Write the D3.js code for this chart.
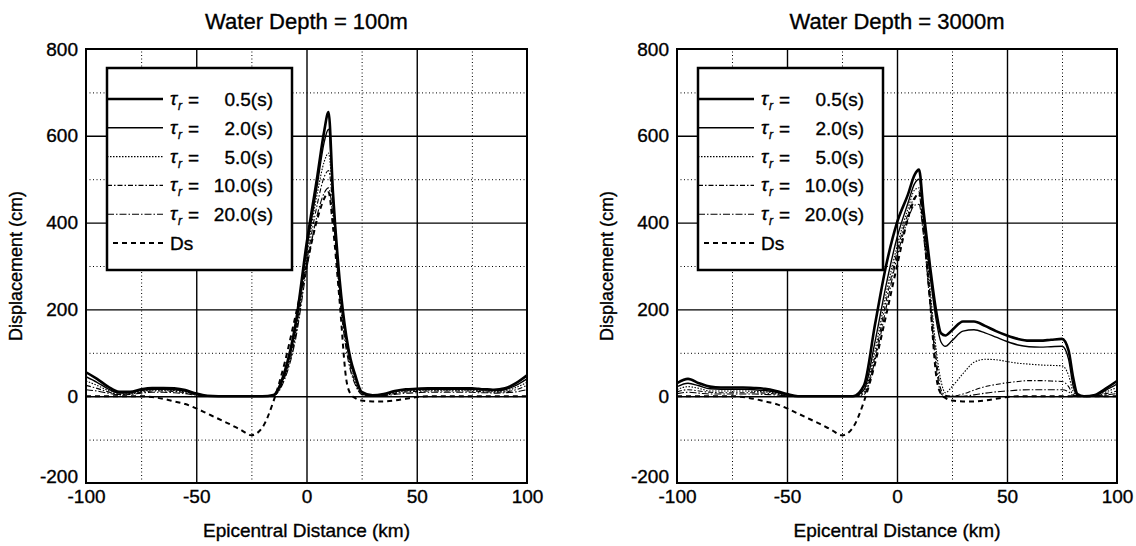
<!DOCTYPE html>
<html>
<head>
<meta charset="utf-8">
<script src="https://cdn.jsdelivr.net/npm/d3@7"></script>
<style>
  body { margin: 0; background: #fff; }
  text { font-family: "Liberation Sans", Arial, sans-serif; fill: #000; stroke: #000; stroke-width: 0.35px; }
</style>
</head>
<body>
<div id="chart"></div>
<script>
// epicentral distance (km), shared by every curve
const distKm = [-100,-95,-90,-85,-80,-75,-70,-65,-60,-55,-50,-45,-40,-35,-30,-25,-20,-15,-10,-5,
  0,5,8,10,12,15,18,20,22,25, 30,35,40,45,50,55,60,65,70,75, 78,80,82,85,90,95,100];

// water depth 100 m, displacement (cm) for each rise time
const shallow05 = [55,40,22,10,10,16,19,19,18,14,6,1,0,0,0,0,0,3,55,165,
  350,510,610,655,470,270,140,85,50,10, 2,5,12,16,17,18,18,18,18,18, 17,16,16,15,18,30,48];
const shallow20 = [45,32,17,7,8,13,16,16,15,12,5,1,0,0,0,0,0,2,50,155,
  335,490,585,615,460,265,135,80,45,8, 1,4,10,14,15,16,16,16,16,16, 15,14,14,13,15,25,40];
const shallow50 = [35,25,13,5,6,11,14,14,13,10,4,1,0,0,0,0,0,2,45,145,
  320,470,540,560,450,255,125,72,38,6, 1,3,8,12,13,14,14,14,14,14, 13,12,12,11,12,20,32];
const shallow100 = [25,18,10,4,5,9,12,12,11,8,3,0,0,0,0,0,0,1,42,138,
  305,445,505,520,435,245,118,66,33,5, 0,2,6,10,11,12,12,12,12,12, 11,10,10,9,10,15,25];
const shallow200 = [15,12,7,3,4,7,9,9,8,6,2,0,0,0,0,0,0,1,38,130,
  290,420,468,480,415,230,108,58,28,4, 0,1,4,7,8,9,9,9,9,9, 8,8,8,7,8,10,15];

// water depth 3000 m
const deep05 = [30,40,30,22,20,20,20,19,17,12,5,0,0,0,0,0,0,25,165,300,
  400,465,510,522,430,300,190,145,140,152, 172,172,162,150,140,132,128,128,130,132, 105,45,5,0,3,18,35];
const deep20 = [22,30,24,17,16,16,16,15,13,9,3,0,0,0,0,0,0,15,125,255,
  365,445,490,500,415,280,170,125,115,128, 150,153,146,136,126,118,114,113,114,115, 85,25,2,0,2,14,28];
const deep50 = [15,22,18,12,12,12,12,11,10,7,2,0,0,0,0,0,0,10,105,235,
  345,432,475,480,405,250,100,35,8,22, 52,78,85,84,80,76,74,72,71,70, 48,12,1,0,2,10,20];
const deep100 = [10,15,12,9,8,8,8,8,7,5,1,0,0,0,0,0,0,6,92,218,
  332,420,458,462,390,232,80,15,2,0, 5,14,22,27,31,34,36,36,35,34, 22,4,0,0,1,6,12];
const deep200 = [6,9,7,5,5,5,5,5,4,3,1,0,0,0,0,0,0,4,82,202,
  320,408,440,442,372,212,62,6,0,0, 0,3,7,10,12,14,15,15,15,15, 10,2,0,0,1,3,6];

// static seabed displacement Ds (same in both panels)
const seabedDs = [0,0,0,0,0,0,-2,-6,-12,-18,-28,-40,-52,-64,-77,-90,-72,-12,75,185,
  300,410,455,470,390,220,40,5,-4,-10, -12,-12,-10,-6,-2,0,0,0,0,0, 0,0,0,0,0,0,0];

const riseTimes = ["0.5", "2.0", "5.0", "10.0", "20.0"];
const xTicks = [-100, -50, 0, 50, 100];
const xGridMajor = [-50, 0, 50];
const xGridMinor = [-75, -25, 25, 75];
const yTicks = [-200, 0, 200, 400, 600, 800];
const yGridMajor = [0, 200, 400, 600];
const yGridMinor = [-100, 100, 300, 500, 700];

const panels = [
  { title: "Water Depth = 100m", left: 86, right: 527, series: [shallow05, shallow20, shallow50, shallow100, shallow200] },
  { title: "Water Depth = 3000m", left: 677, right: 1117, series: [deep05, deep20, deep50, deep100, deep200] }
];

const styles = [
  { w: 2.6, dash: null },
  { w: 1.4, dash: null },
  { w: 1.1, dash: "1.5,1.5" },
  { w: 1.1, dash: "5,2,1.5,2" },
  { w: 1.1, dash: "7,2,1.5,2" }
];
const dsStyle = { w: 2, dash: "5,4" };

const plotTop = 49, plotBottom = 483;

const svg = d3.select("#chart").append("svg")
  .attr("width", 1136).attr("height", 546);

panels.forEach((p, pi) => {
  const x = d3.scaleLinear().domain([-100, 100]).range([p.left, p.right]);
  const y = d3.scaleLinear().domain([-200, 800]).range([plotBottom, plotTop]);
  const g = svg.append("g");
  const cx = (p.left + p.right) / 2;
  const h = plotBottom - plotTop, w = p.right - p.left;

  g.append("clipPath").attr("id", "clip" + pi)
    .append("rect").attr("x", p.left).attr("y", plotTop)
    .attr("width", w).attr("height", h);

  // minor (dotted) grid
  g.append("g").attr("transform", `translate(0,${plotBottom})`)
    .call(d3.axisBottom(x).tickValues(xGridMinor).tickSize(-h).tickFormat(""))
    .call(s => s.select(".domain").remove())
    .selectAll("line").attr("stroke", "#000").attr("stroke-width", 1).attr("stroke-dasharray", "1,2.5");
  g.append("g").attr("transform", `translate(${p.left},0)`)
    .call(d3.axisLeft(y).tickValues(yGridMinor).tickSize(-w).tickFormat(""))
    .call(s => s.select(".domain").remove())
    .selectAll("line").attr("stroke", "#000").attr("stroke-width", 1).attr("stroke-dasharray", "1,2.5");

  // major (solid) grid
  g.append("g").attr("transform", `translate(0,${plotBottom})`)
    .call(d3.axisBottom(x).tickValues(xGridMajor).tickSize(-h).tickFormat(""))
    .call(s => s.select(".domain").remove())
    .selectAll("line").attr("stroke", "#000").attr("stroke-width", 1.4);
  g.append("g").attr("transform", `translate(${p.left},0)`)
    .call(d3.axisLeft(y).tickValues(yGridMajor).tickSize(-w).tickFormat(""))
    .call(s => s.select(".domain").remove())
    .selectAll("line").attr("stroke", "#000").attr("stroke-width", 1.4);

  // tick labels
  g.append("g").attr("transform", `translate(0,${plotBottom})`)
    .call(d3.axisBottom(x).tickValues(xTicks).tickSize(0).tickPadding(7).tickFormat(d => String(d)))
    .call(s => s.select(".domain").remove())
    .selectAll("text").attr("font-size", 19).attr("font-family", "Liberation Sans");
  g.append("g").attr("transform", `translate(${p.left},0)`)
    .call(d3.axisLeft(y).tickValues(yTicks).tickSize(0).tickPadding(8).tickFormat(d => String(d)))
    .call(s => s.select(".domain").remove())
    .selectAll("text").attr("font-size", 19).attr("font-family", "Liberation Sans")
    .attr("dy", d => d === -200 ? "-0.05em" : "0.32em");

  // curves
  const line = d3.line().x((d, i) => x(distKm[i])).y(d => y(d)).curve(d3.curveMonotoneX);
  const curves = g.append("g").attr("clip-path", `url(#clip${pi})`);
  curves.append("path").datum(seabedDs).attr("d", line)
    .attr("fill", "none").attr("stroke", "#000")
    .attr("stroke-width", dsStyle.w).attr("stroke-dasharray", dsStyle.dash);
  p.series.slice().reverse().forEach((s, k) => {
    const st = styles[p.series.length - 1 - k];
    curves.append("path").datum(s).attr("d", line)
      .attr("fill", "none").attr("stroke", "#000")
      .attr("stroke-width", st.w).attr("stroke-dasharray", st.dash);
  });

  // frame
  g.append("rect").attr("x", p.left).attr("y", plotTop)
    .attr("width", w).attr("height", h)
    .attr("fill", "none").attr("stroke", "#000").attr("stroke-width", 2);

  // titles
  g.append("text").attr("x", cx).attr("y", 29).attr("text-anchor", "middle")
    .attr("font-size", 22).text(p.title);
  g.append("text").attr("x", cx).attr("y", 537).attr("text-anchor", "middle")
    .attr("font-size", 19).text("Epicentral Distance (km)");
  g.append("text").attr("transform", `translate(${p.left - 64},${(plotTop + plotBottom) / 2}) rotate(-90)`)
    .attr("text-anchor", "middle").attr("font-size", 18).text("Displacement (cm)");

  // legend
  const lx = p.left + 21, ly = 68, rowH = 28.8, row0 = 99;
  const lg = g.append("g");
  lg.append("rect").attr("x", lx).attr("y", ly).attr("width", 185).attr("height", 202)
    .attr("fill", "#fff").attr("stroke", "#000").attr("stroke-width", 2.5);
  riseTimes.forEach((t, i) => {
    const ry = row0 + i * rowH;
    const st = styles[i];
    lg.append("line").attr("x1", lx).attr("x2", lx + 56).attr("y1", ry).attr("y2", ry)
      .attr("stroke", "#000").attr("stroke-width", st.w).attr("stroke-dasharray", st.dash);
    lg.append("text").attr("x", lx + 63).attr("y", ry + 6)
      .attr("font-family", "Liberation Serif").attr("font-style", "italic").attr("font-size", 19).text("τ");
    lg.append("text").attr("x", lx + 71).attr("y", ry + 11)
      .attr("font-family", "Liberation Serif").attr("font-style", "italic").attr("font-size", 12).text("r");
    lg.append("text").attr("x", lx + 81).attr("y", ry + 7).attr("font-size", 19).text("=");
    lg.append("text").attr("x", lx + 166).attr("y", ry + 7).attr("text-anchor", "end")
      .attr("font-size", 19).text(`${t}(s)`);
  });
  const dy = row0 + 5 * rowH;
  lg.append("line").attr("x1", lx + 6).attr("x2", lx + 56).attr("y1", dy).attr("y2", dy)
    .attr("stroke", "#000").attr("stroke-width", dsStyle.w).attr("stroke-dasharray", dsStyle.dash);
  lg.append("text").attr("x", lx + 63).attr("y", dy + 7).attr("font-size", 19).text("Ds");
});
</script>
</body>
</html>
